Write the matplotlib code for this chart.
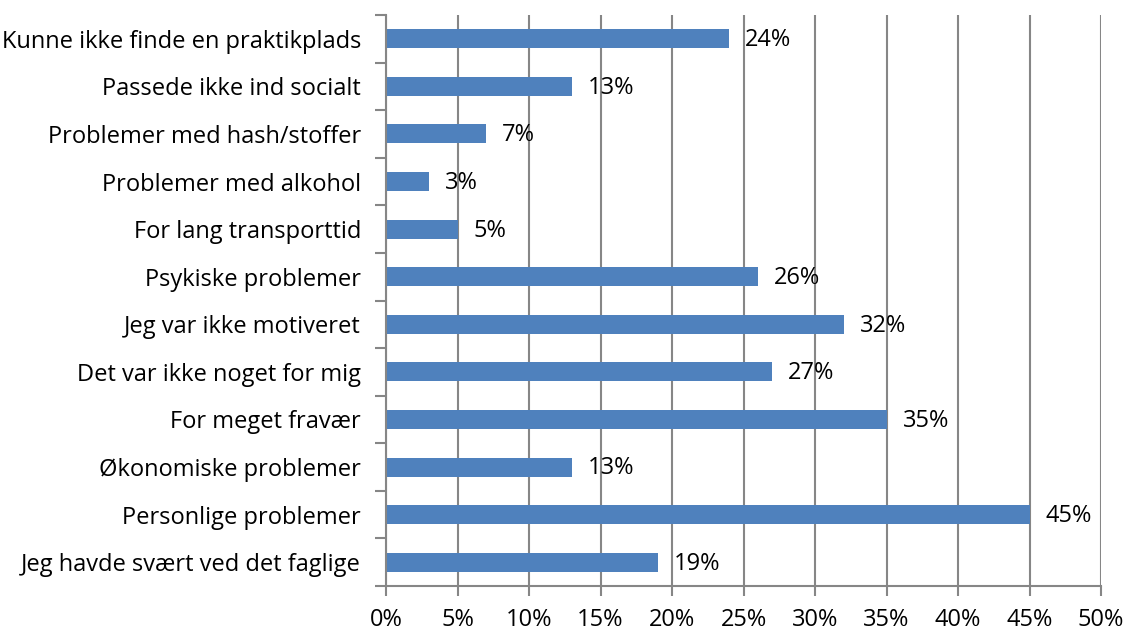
import matplotlib
matplotlib.use("Agg")
import matplotlib.pyplot as plt
from matplotlib.ticker import FuncFormatter, MultipleLocator

categories = [
    "Kunne ikke finde en praktikplads",
    "Passede ikke ind socialt",
    "Problemer med hash/stoffer",
    "Problemer med alkohol",
    "For lang transporttid",
    "Psykiske problemer",
    "Jeg var ikke motiveret",
    "Det var ikke noget for mig",
    "For meget fravær",
    "Økonomiske problemer",
    "Personlige problemer",
    "Jeg havde svært ved det faglige",
]
values = [24, 13, 7, 3, 5, 26, 32, 27, 35, 13, 45, 19]

plt.rcParams['font.family'] = ['Open Sans', 'DejaVu Sans']
FS = 17

fig = plt.figure(figsize=(11.26, 6.31), dpi=100)
ax = fig.add_axes([386/1126, 1-586/631, (1101-386)/1126, (586-15)/631])

n = len(categories)
ypos = list(range(n))[::-1]
ax.barh(ypos, values, height=0.4, color="#4F81BD", zorder=3)
for y, v in zip(ypos, values):
    ax.annotate(f"{v}%", xy=(v, y), xytext=(11.5, -1), textcoords="offset points",
                va="center", ha="left", fontsize=FS, color="black")

ax.set_xlim(0, 50)
ax.set_ylim(-0.5, n - 0.5)
ax.xaxis.set_major_locator(MultipleLocator(5))
ax.xaxis.set_major_formatter(FuncFormatter(lambda x, p: f"{int(round(x))}%"))
ax.set_yticks(ypos)
ax.set_yticklabels(categories)
ax.set_yticks([i - 0.5 for i in range(n + 1)], minor=True)
ax.tick_params(axis='y', which='major', length=0, labelsize=FS, pad=18)
ax.tick_params(axis='y', which='minor', length=8, width=1.5, color="#868686")
ax.tick_params(axis='x', which='major', length=7, width=1.5, color="#868686", labelsize=FS, pad=9)

ax.grid(axis='x', color="#868686", linewidth=1.5, zorder=0)
for s in ["top", "right"]:
    ax.spines[s].set_visible(False)
ax.spines["left"].set_color("#868686")
ax.spines["left"].set_linewidth(1.5)
ax.spines["left"].set_zorder(4)
ax.spines["bottom"].set_color("#868686")
ax.spines["bottom"].set_linewidth(1.5)

fig.savefig("out.png", dpi=100)
